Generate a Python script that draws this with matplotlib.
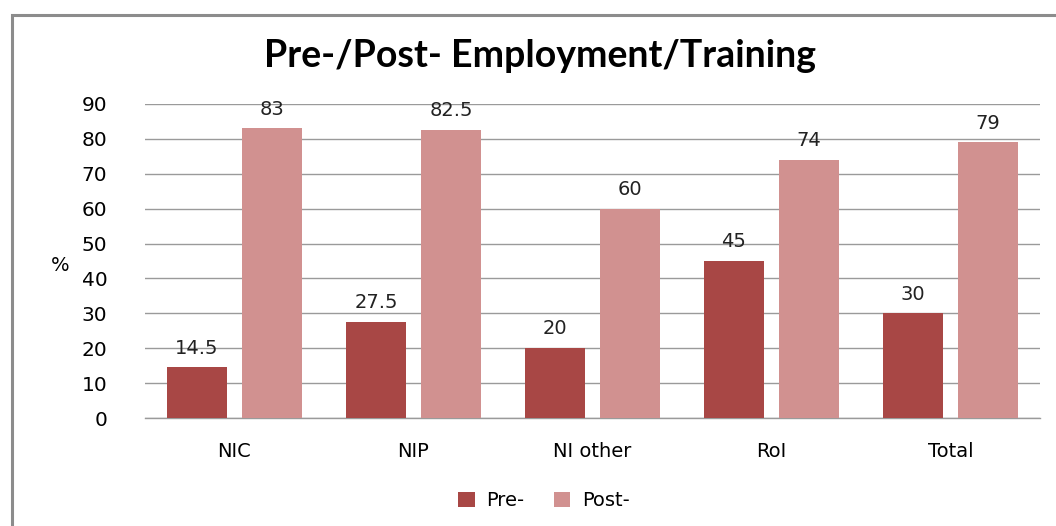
import numpy as np
import matplotlib
matplotlib.use("Agg")
import matplotlib.pyplot as plt
from matplotlib.patches import Rectangle

# data
categories = ["NIC", "NIP", "NI other", "RoI", "Total"]
pre_vals = [14.5, 27.5, 20, 45, 30]
post_vals = [83, 82.5, 60, 74, 79]
pre_labels = ["14.5", "27.5", "20", "45", "30"]
post_labels = ["83", "82.5", "60", "74", "79"]

pre_color = "#A84745"
post_color = "#D19190"

fig = plt.figure(figsize=(10.56, 5.26), dpi=100)
ax = fig.add_axes([0.1373, 0.2053, 0.8475, 0.597])

# outer frame like the spreadsheet chart area
fig.patches.append(Rectangle((12 / 1056, -0.1), 1.2, 1 - 15 / 526 + 0.1,
                             transform=fig.transFigure, fill=False,
                             edgecolor="#8c8c8c", lw=2.2))

x = np.arange(len(categories))
w = 0.335
off = 0.21
b1 = ax.bar(x - off, pre_vals, w, color=pre_color, label="Pre-", zorder=3)
b2 = ax.bar(x + off, post_vals, w, color=post_color, label="Post-", zorder=3)

for rect, lab in zip(b1, pre_labels):
    ax.text(rect.get_x() + rect.get_width() / 2, rect.get_height() + 2.8, lab,
            ha="center", va="bottom", fontsize=14, color="#222222", zorder=4)
for rect, lab in zip(b2, post_labels):
    ax.text(rect.get_x() + rect.get_width() / 2, rect.get_height() + 2.8, lab,
            ha="center", va="bottom", fontsize=14, color="#222222", zorder=4)

ax.set_xlim(-0.5, len(categories) - 0.5)
ax.set_ylim(0, 90)
ax.set_yticks(range(0, 91, 10))
ax.set_xticks(x)
ax.set_xticklabels(categories, fontsize=14)
ax.tick_params(axis="y", labelsize=14.5, length=0, pad=27)
ax.tick_params(axis="x", length=0, pad=17)
ax.yaxis.grid(True, color="#9a9a9a", lw=1.0, zorder=0)
for s in ["top", "right", "left"]:
    ax.spines[s].set_visible(False)
ax.spines["bottom"].set_color("#9a9a9a")
ax.spines["bottom"].set_linewidth(1.0)

ax.set_ylabel("%", fontsize=14, rotation=0, va="center", ha="center")
ax.yaxis.set_label_coords(-0.095, 0.485)

fig.text(0.511, 0.893, "Pre-/Post- Employment/Training", ha="center",
         va="center", fontsize=27, fontweight="bold", family="Lato")

fig.legend(handles=[b1, b2], loc="center", bbox_to_anchor=(0.515, 0.048),
           ncol=2, frameon=False, fontsize=14, handlelength=0.85,
           handleheight=0.85, columnspacing=1.5, handletextpad=0.6)

fig.savefig("out.png", dpi=100)
